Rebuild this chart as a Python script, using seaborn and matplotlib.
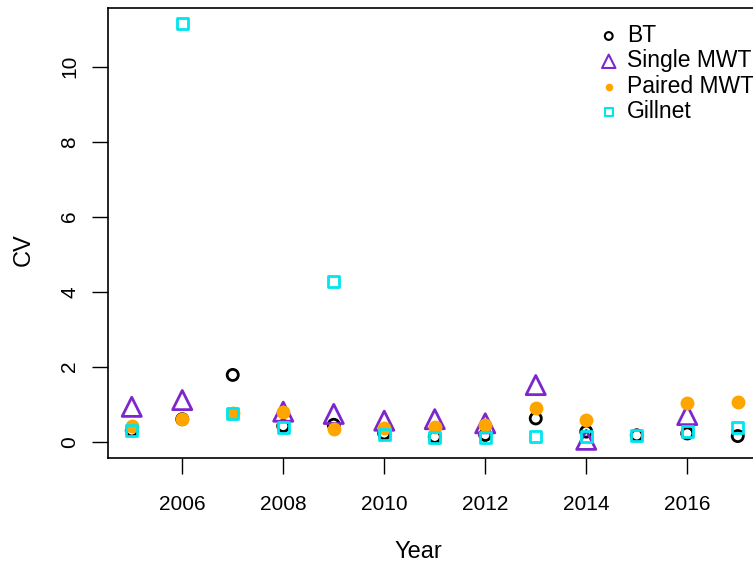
import numpy as np
import pandas as pd
import matplotlib
matplotlib.use("Agg")
import matplotlib.pyplot as plt
import seaborn as sns

## CV by year for each gear type (NaN = no estimate)
years = [2005, 2006, 2007, 2008, 2009, 2010, 2011, 2012, 2013, 2014, 2015, 2016, 2017]
bt = [0.30, 0.60, 1.78, 0.42, 0.45, 0.22, 0.13, 0.18, 0.62, 0.27, 0.17, 0.22, 0.15]
single_mwt = [0.93, 1.11, np.nan, 0.80, 0.74, 0.56, 0.60, 0.49, 1.51, 0.05, np.nan, 0.71, np.nan]
paired_mwt = [0.42, 0.60, 0.76, 0.80, 0.33, 0.36, 0.40, 0.45, 0.89, 0.58, np.nan, 1.02, 1.07]
gillnet = [0.29, 11.15, 0.76, 0.38, 4.27, 0.20, 0.12, 0.12, 0.13, 0.13, 0.16, 0.27, 0.37]

df = pd.DataFrame({'Year': years, 'BT': bt, 'Single MWT': single_mwt,
                   'Paired MWT': paired_mwt, 'Gillnet': gillnet})

sns.set_theme(style='ticks')
plt.rcParams['font.family'] = ['Liberation Sans', 'DejaVu Sans']
plt.rcParams['text.color'] = 'black'
plt.rcParams['axes.labelcolor'] = 'black'

fig = plt.figure(figsize=(7.53, 5.67), dpi=100)
ax = fig.add_axes([107.5/753, 1-458/567, (762-107.5)/753, (458-8)/567])

## (column, marker, colour, open?, size)
series = [('BT', 'o', 'black', True, 64),
          ('Single MWT', '^', '#7D26CD', True, 190),
          ('Paired MWT', 'o', '#FFA500', False, 100),
          ('Gillnet', 's', '#00E5EE', True, 66)]

for col, mk, clr, hollow, sz in series:
    sns.scatterplot(data=df, x='Year', y=col, marker=mk, s=sz, color=clr,
                    linewidth=2 if hollow else 0, label=col, ax=ax)
    pc = ax.collections[-1]
    if hollow:
        pc.set_facecolor('none')
        pc.set_edgecolor(clr)

ax.set_xlim(2004.52, 2017.48)
ax.set_ylim(-0.435, 11.565)
ax.set_xticks([2006, 2008, 2010, 2012, 2014, 2016])
ax.set_yticks([0, 2, 4, 6, 8, 10])
for lab in ax.get_yticklabels():
    lab.set_rotation(90)
    lab.set_va('center')
ax.tick_params(axis='both', length=11.5, width=1, labelsize=15, pad=9, colors='black')
ax.tick_params(axis='x', pad=15)
for sp in ax.spines.values():
    sp.set_linewidth(1.2)
    sp.set_color('black')

ax.set_xlabel('Year', fontsize=17)
ax.set_ylabel('CV', fontsize=17)
ax.xaxis.set_label_coords(418/753, 1-552/567, transform=fig.transFigure)
ax.yaxis.set_label_coords(23.5/753, 1-250/567, transform=fig.transFigure)
ax.xaxis.label.set_va('center')
ax.yaxis.label.set_va('center')

leg = ax.legend(loc='upper left', bbox_to_anchor=(595/753, 1-24/567),
                bbox_transform=fig.transFigure, frameon=False, fontsize=16.5,
                markerscale=0.7, handletextpad=0.2, labelspacing=0.1,
                borderaxespad=0, borderpad=0, handlelength=1.2)
for h in leg.legend_handles:
    h.set_linewidth(1.5)

fig.savefig('out.png', dpi=100)
